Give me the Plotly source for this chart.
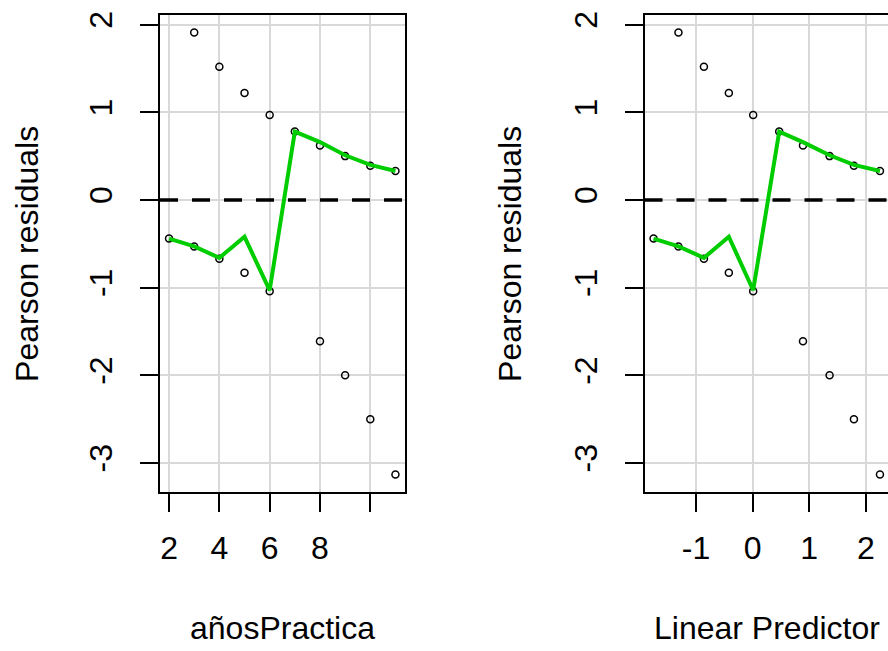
import plotly.graph_objects as go

# Observed Pearson residuals, one entry per case
anios_practica = [2, 3, 3, 4, 4, 5, 5, 6, 6, 7, 8, 8, 9, 9, 10, 10, 11, 11]
pearson_resid = [-0.44, 1.91, -0.53, 1.52, -0.67, 1.22, -0.83, 0.97, -1.04,
                 0.78, 0.62, -1.61, 0.50, -2.00, 0.39, -2.50, 0.33, -3.13]
linear_pred = [-1.75, -1.31, -1.31, -0.86, -0.86, -0.42, -0.42, 0.01, 0.01,
               0.47, 0.89, 0.89, 1.36, 1.36, 1.79, 1.79, 2.25, 2.25]

# Smoothed residual curve evaluated at each distinct year
anios_curve = [2, 3, 4, 5, 6, 7, 8, 9, 10, 11]
lp_curve = [-1.75, -1.31, -0.86, -0.42, 0.01, 0.47, 0.89, 1.36, 1.79, 2.25]
resid_curve = [-0.44, -0.53, -0.66, -0.42, -1.03, 0.78, 0.66, 0.51, 0.40, 0.33]

y_ticks = [-3, -2, -1, 0, 1, 2]
y_ticktext = ["-3", "-2", "-1", "0", "1", "2"]
x1_ticks = [2, 4, 6, 8, 10]
x1_ticktext = ["2", "4", "6", "8", ""]
x2_ticks = [-1, 0, 1, 2]
x2_ticktext = ["-1", "0", "1", "2"]

# axis limits
x1_range = [1.64, 11.36]
x2_range = [-1.91, 2.392]
y_range = [-3.33, 2.11]

W, H = 888, 651
FONT = "Arial, Liberation Sans, sans-serif"
FS = 32
GREEN = "#00CD00"

fig = go.Figure()

panels = [
    ("x", "y", anios_practica, anios_curve, x1_range),
    ("x2", "y2", linear_pred, lp_curve, x2_range),
]
for xa, ya, xp, xc, xr in panels:
    # horizontal reference line at zero across the whole panel
    fig.add_trace(go.Scatter(
        x=xr, y=[0, 0], xaxis=xa, yaxis=ya, mode="lines",
        line=dict(color="black", width=3.5, dash="18px,14px"),
        showlegend=False, hoverinfo="skip"))
    fig.add_trace(go.Scatter(
        x=xp, y=pearson_resid, xaxis=xa, yaxis=ya, mode="markers",
        marker=dict(symbol="circle-open", size=7, color="black",
                    line=dict(width=1.5, color="black")),
        showlegend=False, hoverinfo="skip"))
    fig.add_trace(go.Scatter(
        x=xc, y=resid_curve, xaxis=xa, yaxis=ya, mode="lines",
        line=dict(color=GREEN, width=4),
        showlegend=False, hoverinfo="skip"))

y_top = 1 - 11 / H
y_bot = 1 - 491 / H

common_axis = dict(
    showline=True, linecolor="black", linewidth=2,
    ticks="outside", ticklen=18, tickwidth=2, tickcolor="black",
    showgrid=True, gridcolor="#d9d9d9", gridwidth=1.5, zeroline=False,
    tickfont=dict(family=FONT, size=FS, color="black"),
)

fig.update_layout(
    width=W, height=H,
    margin=dict(l=0, r=0, t=0, b=0),
    paper_bgcolor="white", plot_bgcolor="white",
    xaxis=dict(domain=[160 / W, 404.5 / W], range=x1_range,
               tickvals=x1_ticks, ticktext=x1_ticktext, mirror=True,
               anchor="y", ticklabelstandoff=9, **common_axis),
    yaxis=dict(domain=[y_bot, y_top], range=y_range,
               tickvals=y_ticks, ticktext=y_ticktext, tickangle=-90,
               mirror=True, anchor="x", ticklabelstandoff=15, **common_axis),
    xaxis2=dict(domain=[644.5 / W, 1.0], range=x2_range,
                tickvals=x2_ticks, ticktext=x2_ticktext, mirror=True,
                anchor="y2", ticklabelstandoff=9, **common_axis),
    yaxis2=dict(domain=[y_bot, y_top], range=y_range,
                tickvals=y_ticks, ticktext=y_ticktext, tickangle=-90,
                mirror=False, anchor="x2", ticklabelstandoff=15,
                **common_axis),
)

title_font = dict(family=FONT, size=FS, color="black")
yc = 1 - 251.5 / H
annotations = [
    dict(text="Pearson residuals", x=27 / W, y=yc, textangle=-90),
    dict(text="Pearson residuals", x=510 / W, y=yc, textangle=-90),
    dict(text="añosPractica", x=282 / W, y=1 - 628 / H),
    dict(text="Linear Predictor", x=767 / W, y=1 - 628 / H),
]
for a in annotations:
    fig.add_annotation(xref="paper", yref="paper", showarrow=False,
                       xanchor="center", yanchor="middle",
                       font=title_font, **a)

fig.write_html("out.html")
